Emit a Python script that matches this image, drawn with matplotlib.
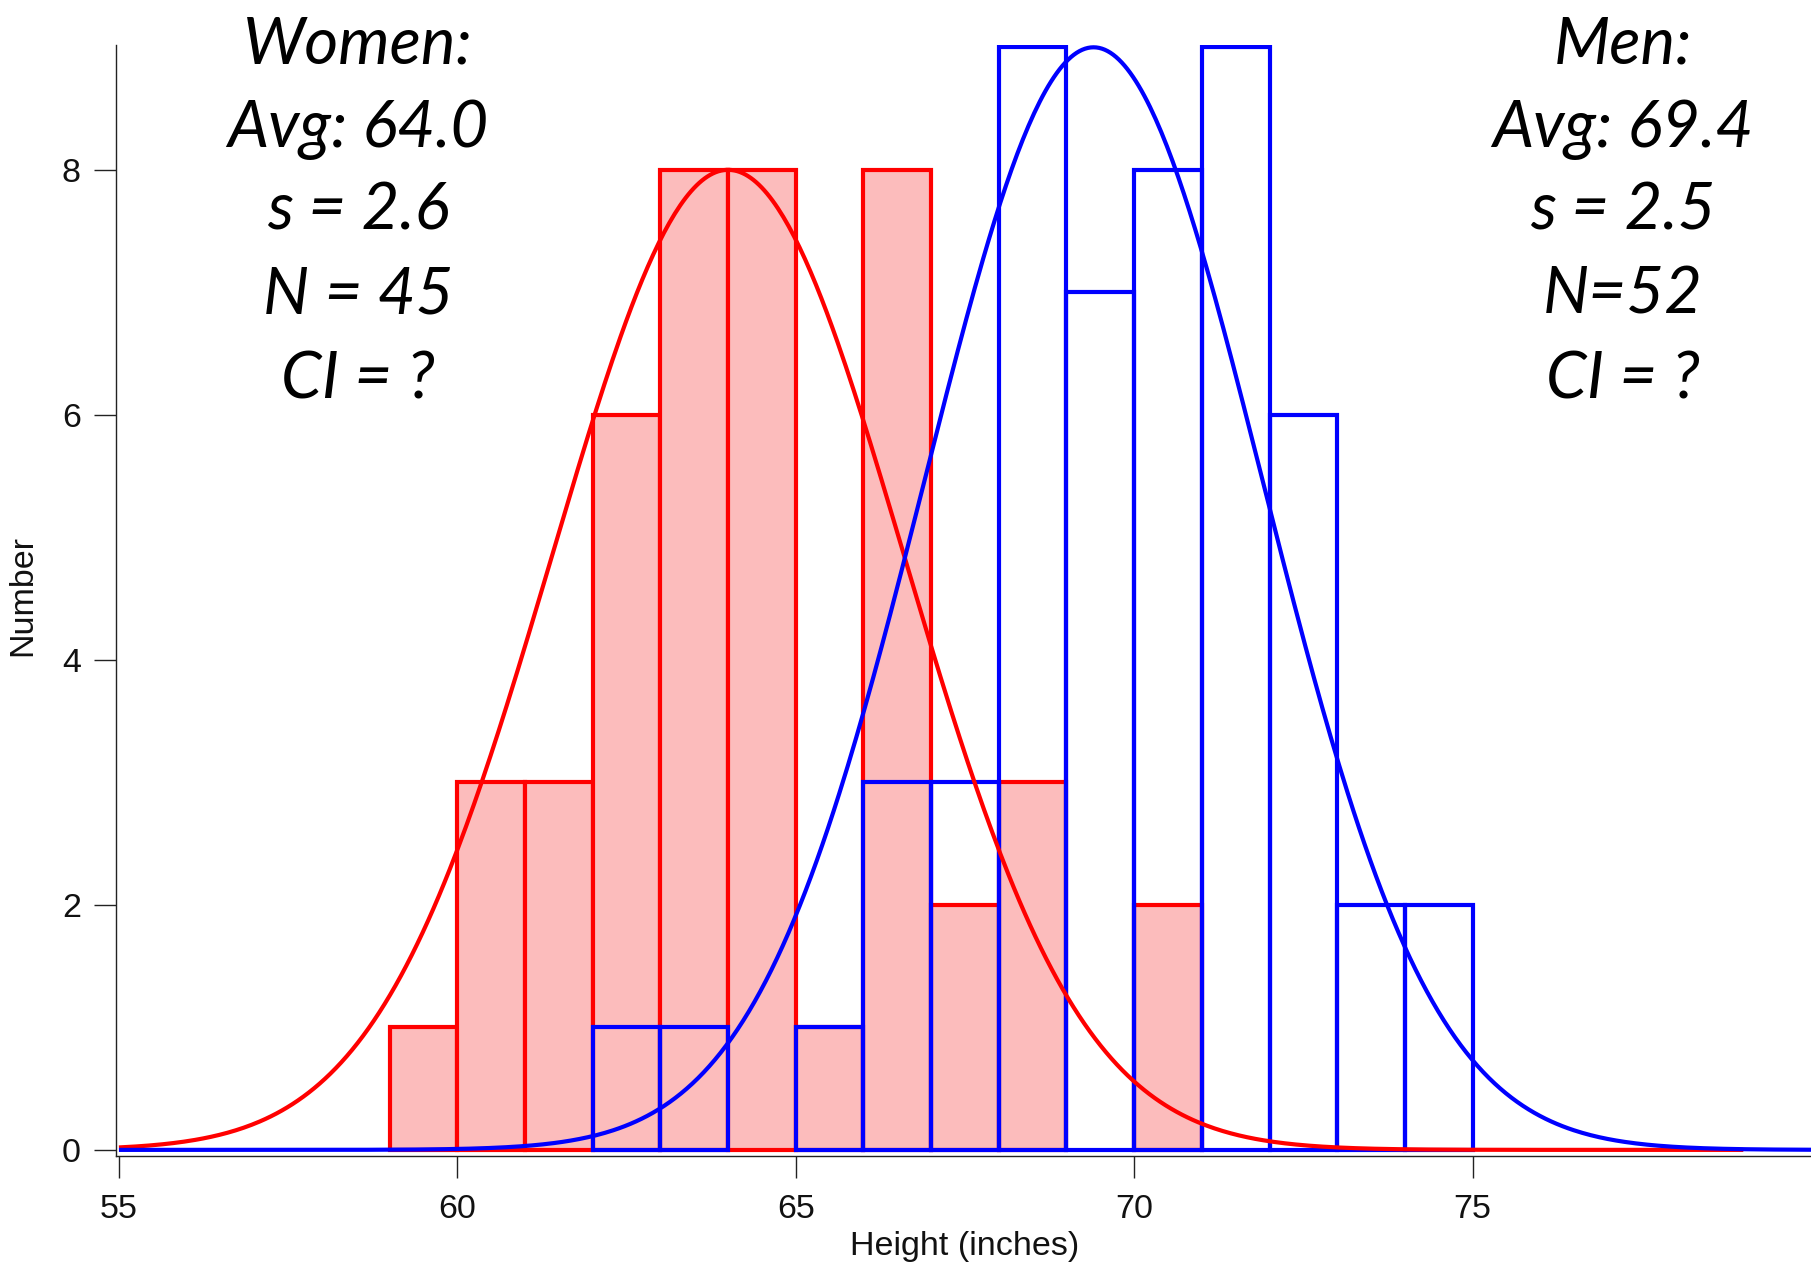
import numpy as np
import matplotlib
matplotlib.use("Agg")
import matplotlib.pyplot as plt

# ---- data ----
bin_left = [59, 60, 61, 62, 63, 64, 65, 66, 67, 68, 69, 70, 71, 72, 73, 74]
women_counts = [1, 3, 3, 6, 8, 8, 1, 8, 2, 3, 0, 2, 0, 0, 0, 0]
men_counts = [0, 0, 0, 1, 1, 0, 1, 3, 3, 9, 7, 8, 9, 6, 2, 2]
bin_width = 1.0

women_fit = dict(amp=8.0, mean=64.0, sd=2.6, xmin=55.0, xmax=79.0)
men_fit = dict(amp=9.0, mean=69.4, sd=2.5, xmin=55.0, xmax=80.0)

women_text = ["Women:", "Avg: 64.0", "s = 2.6", "N = 45", "CI = ?"]
men_text = ["Men:", "Avg: 69.4", "s = 2.5", "N=52", "CI = ?"]

x_ticks = [55, 60, 65, 70, 75]
y_ticks = [0, 2, 4, 6, 8]

# ---- figure ----
W, H = 1811, 1267
fig = plt.figure(figsize=(W / 100, H / 100), dpi=100)
ax = fig.add_axes([0.0638, 0.0876, 0.9362, 0.877])

red = "#ff0000"
blue = "#0000ff"
pink = "#fcbcbc"

lw = 3.0
# women histogram (filled)
for xl, c in zip(bin_left, women_counts):
    if c > 0:
        ax.bar(xl, c, width=bin_width, align="edge", color=pink,
               edgecolor=red, linewidth=lw, zorder=2)
# men histogram (outline)
for xl, c in zip(bin_left, men_counts):
    if c > 0:
        ax.bar(xl, c, width=bin_width, align="edge", fill=False,
               edgecolor=blue, linewidth=lw, zorder=3)


def gauss(p):
    x = np.linspace(p["xmin"], p["xmax"], 600)
    return x, p["amp"] * np.exp(-((x - p["mean"]) ** 2) / (2 * p["sd"] ** 2))


xr, yr = gauss(women_fit)
ax.plot(xr, yr, color=red, lw=lw, zorder=4, solid_capstyle="butt")
xb, yb = gauss(men_fit)
ax.plot(xb, yb, color=blue, lw=lw, zorder=5, solid_capstyle="butt")

ax.set_xlim(54.95, 80.0)
ax.set_ylim(-0.05, 9.02)
for s in ["top", "right"]:
    ax.spines[s].set_visible(False)
for s in ["left", "bottom"]:
    ax.spines[s].set_linewidth(1.0)
    ax.spines[s].set_color("#222222")

tick_font = dict(family=["Liberation Sans", "DejaVu Sans"], size=24.5)
ax.set_xticks(x_ticks)
ax.set_yticks(y_ticks)
ax.set_xticklabels([str(v) for v in x_ticks], fontdict=tick_font)
ax.set_yticklabels([str(v) for v in y_ticks], fontdict=tick_font)
ax.tick_params(axis="both", direction="out", length=16, width=1.0,
               color="#222222", labelcolor="#111111")
ax.tick_params(axis="x", pad=11)
ax.tick_params(axis="y", pad=9)

fig.text(23 / W, 1 - 595 / H, "Number", rotation=90, ha="center", va="center",
         fontsize=24.5, family=["Liberation Sans", "DejaVu Sans"], color="#111111")
fig.text(965 / W, 1 - 1247 / H, "Height (inches)",
         ha="center", va="center", fontsize=24.5,
         family=["Liberation Sans", "DejaVu Sans"], color="#111111")

big = dict(family=["Lato", "DejaVu Sans"], style="italic", fontsize=47,
           ha="center", va="baseline", color="black")
baselines = [63, 147, 229, 314, 398]
for line, yb_ in zip(women_text, baselines):
    fig.text(358 / W, 1 - yb_ / H, line, **big)
for line, yb_ in zip(men_text, baselines):
    fig.text(1623 / W, 1 - yb_ / H, line, **big)

fig.savefig("out.png", dpi=100)
